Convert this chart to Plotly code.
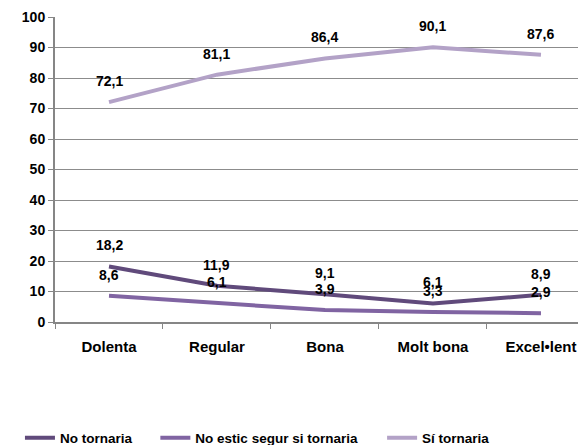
import plotly.graph_objects as go

categories = ["Dolenta", "Regular", "Bona", "Molt bona", "Excel•lent"]
no_tornaria = [18.2, 11.9, 9.1, 6.1, 8.9]
no_estic_segur = [8.6, 6.1, 3.9, 3.3, 2.9]
si_tornaria = [72.1, 81.1, 86.4, 90.1, 87.6]
y_ticks = [0, 10, 20, 30, 40, 50, 60, 70, 80, 90, 100]

series = [
    ("No tornaria", no_tornaria, "#604A7B", "legend", -0.066),
    ("No estic segur si tornaria", no_estic_segur, "#8064A2", "legend2", 0.189),
    ("Sí tornaria", si_tornaria, "#B3A2C7", "legend3", 0.616),
]

lab_font = dict(family="Liberation Sans", size=14, color="#000000", weight="bold")

fig = go.Figure()
for name, vals, col, lg, lx in series:
    fig.add_trace(go.Scatter(x=categories, y=vals, mode="lines", name=name,
                             line=dict(color=col, width=4), legend=lg))
    for c, v in zip(categories, vals):
        fig.add_annotation(x=c, y=v, text=f"{v:.1f}".replace(".", ","),
                           showarrow=False, yshift=21, font=lab_font)

leg_common = dict(orientation="h", y=-0.38, yanchor="middle", xanchor="left",
                  font=dict(family="Liberation Sans", size=13.5, color="#000000", weight="bold"),
                  itemwidth=30, bgcolor="rgba(0,0,0,0)")
fig.update_layout(
    width=578, height=437,
    margin=dict(l=47, r=0, t=9, b=123, autoexpand=False),
    paper_bgcolor="white", plot_bgcolor="white",
    showlegend=True,
    legend=dict(x=series[0][4], **leg_common),
    legend2=dict(x=series[1][4], **leg_common),
    legend3=dict(x=series[2][4], **leg_common),
    font=dict(family="Liberation Sans", color="#000000"),
)
fig.update_xaxes(
    type="category", range=[-0.5, 4.417],
    showline=True, linecolor="#868686", linewidth=2, showgrid=False,
    ticks="outside", tickson="boundaries", ticklen=5, tickcolor="#868686", tickwidth=1,
    ticklabelstandoff=10,
    tickfont=dict(family="Liberation Sans", size=15, color="#000000", weight="bold"),
    zeroline=False,
)
fig.update_yaxes(
    range=[0, 100], tickmode="array", tickvals=y_ticks,
    showline=True, linecolor="#868686", linewidth=2,
    showgrid=True, gridcolor="#8C8C8C", gridwidth=1,
    ticks="outside", ticklen=5, tickcolor="#868686",
    tickfont=dict(family="Liberation Sans", size=14, color="#000000", weight="bold"),
    zeroline=False,
)
fig.write_html("out.html")
